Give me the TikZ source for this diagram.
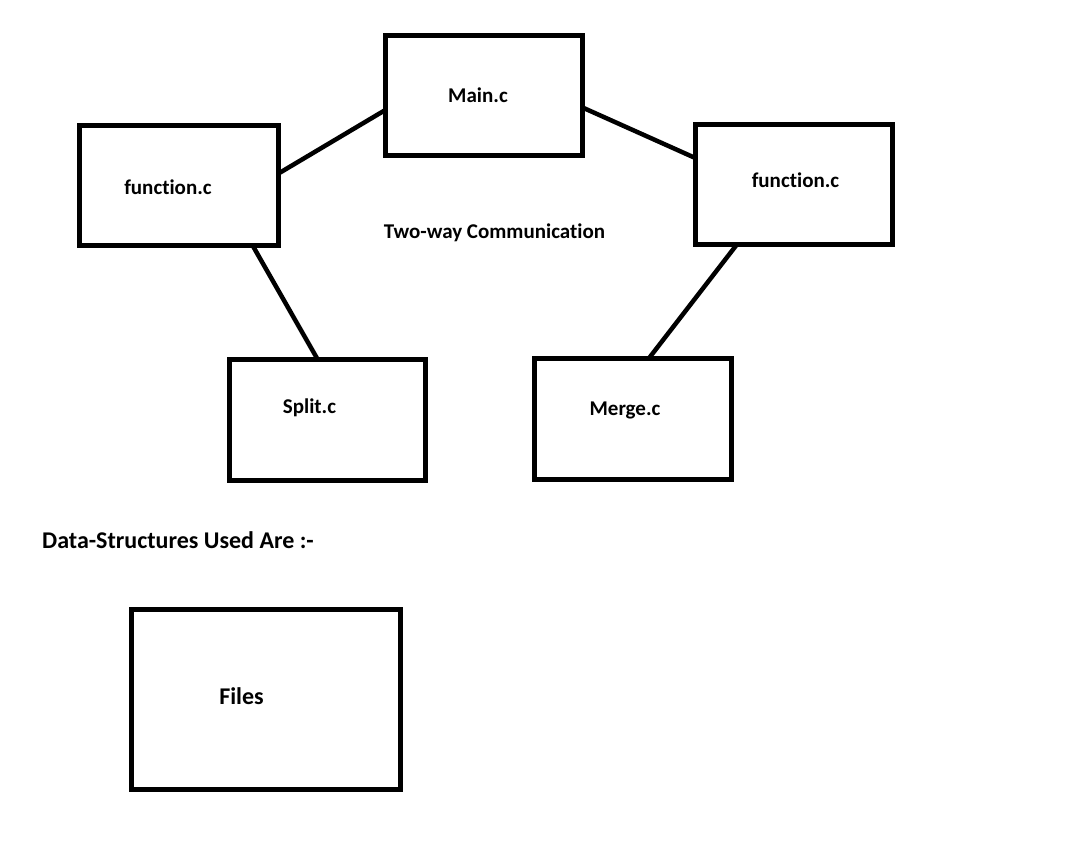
\documentclass[tikz,border=0pt]{standalone}
\usepackage{fontspec}
\setmainfont{Carlito}[Ligatures={NoCommon}]
\usetikzlibrary{calc}
\tikzset{
  box/.style={draw=black, line width=4.5pt, inner sep=0pt, outer sep=0pt, fill=white},
  lbl/.style={font=\fontsize{21}{24}\selectfont\bfseries, inner sep=0pt, anchor=base},
  biglbl/.style={lbl, font=\fontsize{24}{28}\selectfont\bfseries},
  link/.style={line width=4.5pt, black}
}
\begin{document}
\begin{tikzpicture}[x=1pt,y=-1pt]
\useasboundingbox[fill=white] (0,0) rectangle (1070,846);
% boxes
\node[box, minimum width=197pt, minimum height=120pt] (main) at (484,95.5) {};
\node[box, minimum width=199pt, minimum height=120pt] (fl) at (179,185.5) {};
\node[box, minimum width=197pt, minimum height=120pt] (fr) at (794,184.5) {};
\node[box, minimum width=196pt, minimum height=121pt] (split) at (327.5,420) {};
\node[box, minimum width=197pt, minimum height=121pt] (merge) at (633,419) {};
\node[box, minimum width=269pt, minimum height=180pt] (files) at (266,699.5) {};
% labels
\node[lbl] (tmain) at (478,102) {Main.c};
\node[lbl] (tfl) at (168,194) {function.c};
\node[lbl] (tfr) at (795.5,187) {function.c};
\node[lbl] (ttwo) at (494.5,238) {Two-way Communication};
\node[lbl] (tsplit) at (309.5,413) {Split.c};
\node[lbl] (tmerge) at (625,415) {Merge.c};
\node[biglbl, anchor=base west] (tds) at (42,548) {Data-Structures Used Are :-};
\node[biglbl] (tfiles) at (241.5,704) {Files};
% connectors
\draw[link] ($(main.north west)!0.62!(main.south west)$) -- ($(fl.north east)!0.40!(fl.south east)$);
\draw[link] ($(main.north east)!0.60!(main.south east)$) -- ($(fr.north west)!0.28!(fr.south west)$);
\draw[link] ($(fl.south west)!0.87!(fl.south east)$) -- ($(split.north west)!0.45!(split.north east)$);
\draw[link] ($(fr.south west)!0.21!(fr.south east)$) -- ($(merge.north west)!0.58!(merge.north east)$);
\end{tikzpicture}
\end{document}
